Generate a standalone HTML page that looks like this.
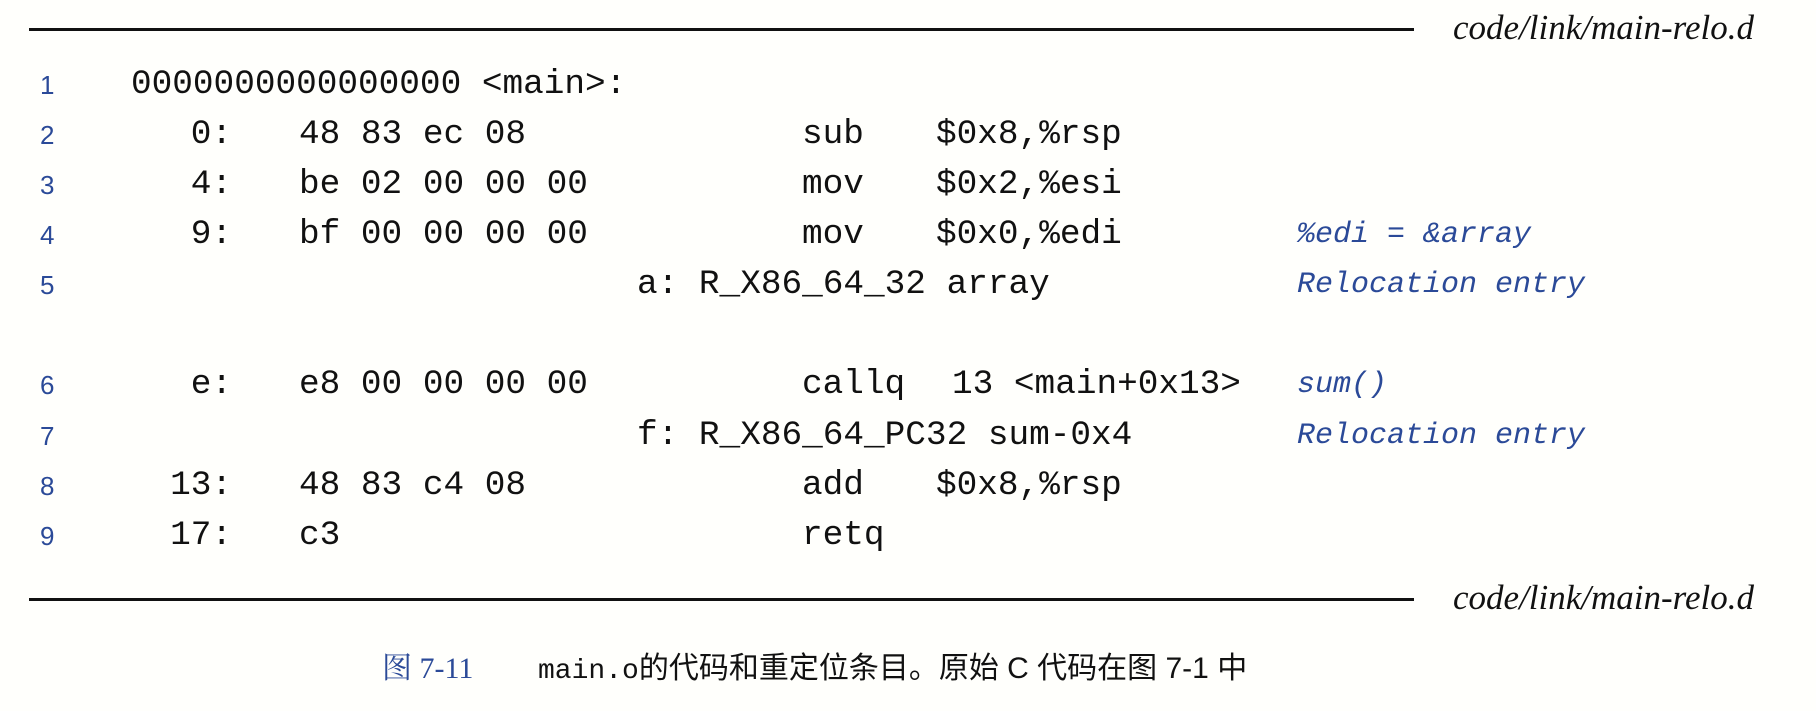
<!DOCTYPE html>
<html><head><meta charset="utf-8"><style>
body{margin:0;width:1816px;height:711px;background:#fffffc;position:relative;overflow:hidden}
.r{position:absolute;height:3px;background:#111;left:29px;width:1385px}
.lbl{position:absolute;right:62px;font:italic 35px "Liberation Serif",serif;color:#111;line-height:40px}
.n{position:absolute;left:40px;width:24px;font:26px "Liberation Sans",sans-serif;color:#2b4a98;line-height:40px;height:40px}
.c{position:absolute;font:34.4px "Liberation Mono",monospace;color:#111;line-height:40px;height:40px;white-space:pre}
.a{text-align:right;width:120px;left:112px}
.m{position:absolute;font:italic 30px "Liberation Mono",monospace;color:#2b4a98;line-height:40px;height:40px;white-space:pre;left:1297px}
.cap{position:absolute;top:649px;font:30px "Liberation Sans","Noto Sans CJK SC",sans-serif;line-height:40px;white-space:pre}
</style></head><body>
<div class="r" style="top:28px"></div>
<div class="lbl" style="top:8px">code/link/main-relo.d</div>
<div class="r" style="top:598px"></div>
<div class="lbl" style="top:578px">code/link/main-relo.d</div>

<div class="n" style="top:65px">1</div><div class="c" style="top:65px;left:131px">0000000000000000 &lt;main&gt;:</div>

<div class="n" style="top:115px">2</div><div class="c a" style="top:115px">0:</div><div class="c" style="top:115px;left:299px">48 83 ec 08</div><div class="c" style="top:115px;left:802px">sub</div><div class="c" style="top:115px;left:936px">$0x8,%rsp</div>

<div class="n" style="top:165px">3</div><div class="c a" style="top:165px">4:</div><div class="c" style="top:165px;left:299px">be 02 00 00 00</div><div class="c" style="top:165px;left:802px">mov</div><div class="c" style="top:165px;left:936px">$0x2,%esi</div>

<div class="n" style="top:215px">4</div><div class="c a" style="top:215px">9:</div><div class="c" style="top:215px;left:299px">bf 00 00 00 00</div><div class="c" style="top:215px;left:802px">mov</div><div class="c" style="top:215px;left:936px">$0x0,%edi</div><div class="m" style="top:215px">%edi = &amp;array</div>

<div class="n" style="top:265px">5</div><div class="c" style="top:265px;left:637px">a: R_X86_64_32 array</div><div class="m" style="top:265px">Relocation entry</div>

<div class="n" style="top:365px">6</div><div class="c a" style="top:365px">e:</div><div class="c" style="top:365px;left:299px">e8 00 00 00 00</div><div class="c" style="top:365px;left:802px">callq</div><div class="c" style="top:365px;left:952px">13 &lt;main+0x13&gt;</div><div class="m" style="top:365px">sum()</div>

<div class="n" style="top:416px">7</div><div class="c" style="top:416px;left:637px">f: R_X86_64_PC32 sum-0x4</div><div class="m" style="top:416px">Relocation entry</div>

<div class="n" style="top:466px">8</div><div class="c a" style="top:466px">13:</div><div class="c" style="top:466px;left:299px">48 83 c4 08</div><div class="c" style="top:466px;left:802px">add</div><div class="c" style="top:466px;left:936px">$0x8,%rsp</div>

<div class="n" style="top:516px">9</div><div class="c a" style="top:516px">17:</div><div class="c" style="top:516px;left:299px">c3</div><div class="c" style="top:516px;left:802px">retq</div>

<div class="cap" style="left:382px;color:#2b4a98;font-family:'Liberation Serif','Noto Serif CJK SC',serif">图 7-11</div>
<div class="cap" style="left:538px;color:#111"><span style="font-family:'Liberation Mono',monospace;font-size:28px">main.o</span>的代码和重定位条目。原始 C 代码在图 7-1 中</div>
</body></html>
